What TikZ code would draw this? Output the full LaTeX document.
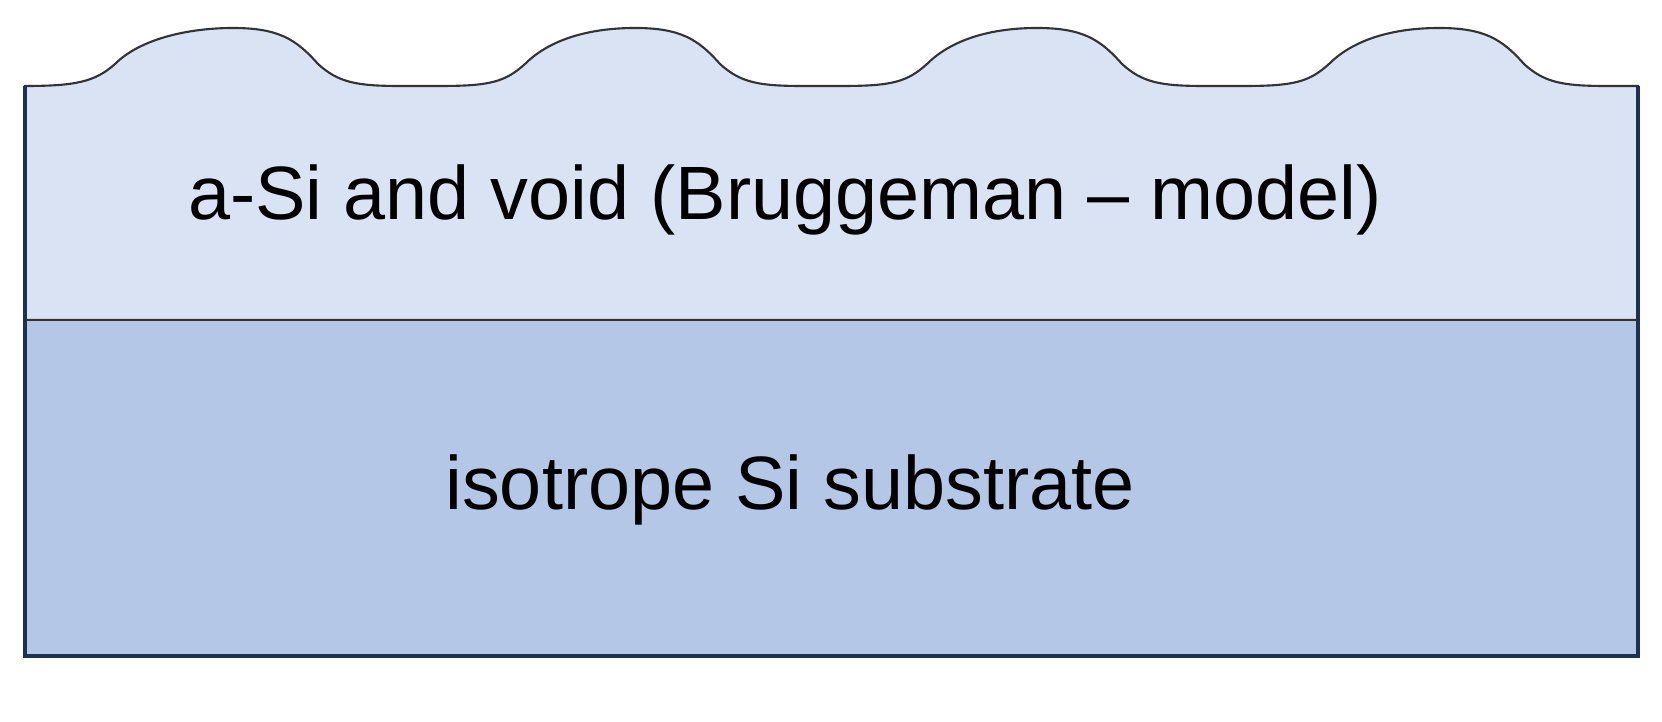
\documentclass[tikz,border=0pt]{standalone}
\usepackage{fontspec}
\setmainfont{Liberation Sans}
\definecolor{topc}{HTML}{DAE3F3}
\definecolor{botc}{HTML}{B4C7E7}
\definecolor{edge}{HTML}{1F3050}
\begin{document}
\begin{tikzpicture}[x=0.01cm,y=-0.01cm,
  lbl/.style={font=\fontsize{21.5}{26}\selectfont,inner sep=0}]
\useasboundingbox (0,0) rectangle (1662,722);
\filldraw[fill=topc,draw=black!80,line width=0.6pt]
 (25,320) -- (25,86)
 .. controls +(50,0) and +(-20,18) .. ++(90,-22) .. controls +(25,-25) and +(-45,0) .. ++(118,-36)
 .. controls +(45,0) and +(-22,-25) .. ++(85,36) .. controls +(20,18) and +(-45,0) .. ++(82,22) -- ++(40,0)
 .. controls +(50,0) and +(-20,18) .. ++(85,-22) .. controls +(25,-25) and +(-45,0) .. ++(110,-36)
 .. controls +(45,0) and +(-22,-25) .. ++(85,36) .. controls +(20,18) and +(-45,0) .. ++(82,22) -- ++(40,0)
 .. controls +(50,0) and +(-20,18) .. ++(85,-22) .. controls +(25,-25) and +(-45,0) .. ++(110,-36)
 .. controls +(45,0) and +(-22,-25) .. ++(85,36) .. controls +(20,18) and +(-45,0) .. ++(82,22) -- ++(40,0)
 .. controls +(50,0) and +(-20,18) .. ++(85,-22) .. controls +(25,-25) and +(-45,0) .. ++(110,-36)
 .. controls +(45,0) and +(-22,-25) .. ++(85,36) .. controls +(20,18) and +(-45,0) .. ++(82,22)
 -- (1638,86) -- (1638,320) -- cycle;
\fill[botc] (25,320) rectangle (1638,656);
\draw[black!80,line width=0.6pt] (25,320) -- (1638,320);
\draw[edge,line width=1.2pt] (25,86) -- (25,656) -- (1638,656) -- (1638,86);
\node[lbl] (top) at (785,200) {a-Si and void (Bruggeman – model)};
\node[lbl] (bot) at (790,490) {isotrope Si substrate};
\end{tikzpicture}
\end{document}
